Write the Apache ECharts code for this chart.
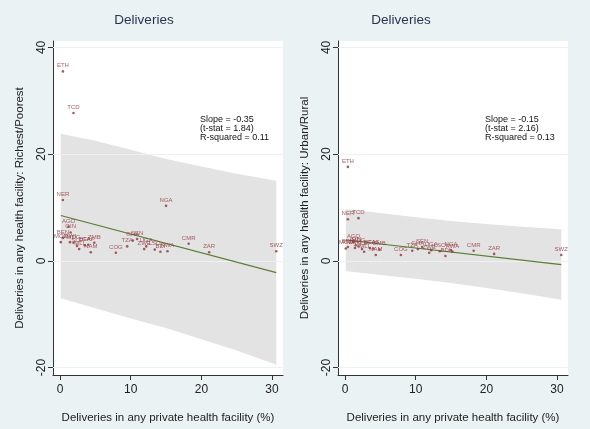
<!DOCTYPE html>
<html>
<head>
<meta charset="utf-8">
<script src="https://cdn.jsdelivr.net/npm/echarts@6.0.0/dist/echarts.min.js"></script>
<style>
html,body{margin:0;padding:0;background:#EAF2F3;}
#chart{width:590px;height:429px;}
</style>
</head>
<body>
<div id="chart"></div>
<script>
// ---- data ----
const countries = ['ETH','TCD','NER','AGO','GIN','BEN','MOZ','MWI','MDG','SLE','MLI','BFA','CAF','ZMB','NAM','COG','TZA','GHA','SEN','ZWE','UGA','LSO','BDI','RWA','NGA','CMR','ZAR','SWZ'];
const privateShare = [0.4,1.9,0.4,1.2,1.5,0.4,0.1,1.4,1.9,2.4,2.7,3.5,4.0,4.85,4.35,7.9,9.5,10.3,10.9,11.9,12.2,13.4,14.2,15.2,15.0,18.2,21.1,30.6];
const richestPoorest = [35.5,27.7,11.4,6.4,5.3,4.3,3.5,3.5,3.4,2.8,2.2,2.9,3.0,3.4,1.6,1.5,2.7,3.8,4.1,2.2,2.7,2.1,1.7,1.8,10.3,3.2,1.6,1.8];
const urbanRural = [17.6,8.0,7.8,3.5,2.9,2.6,2.3,2.4,2.7,2.2,1.7,2.4,2.3,2.1,1.1,1.1,1.9,2.2,2.6,1.5,2.0,1.8,0.9,1.7,2.0,1.9,1.3,1.1];

const fitX = [0.1, 30.6];
const fitLeft = [8.5, -2.2];
const fitRight = [3.9, -0.7];

const bandX = [0.1, 5, 10, 15, 20, 25, 30.6];
const bandUpperLeft = [23.8, 22.5, 20.8, 19.1, 17.7, 16.3, 15.0];
const bandLowerLeft = [-7.0, -8.9, -10.8, -12.6, -14.7, -16.8, -19.5];
const bandUpperRight = [9.7, 8.95, 8.15, 7.45, 6.9, 6.4, 5.9];
const bandLowerRight = [-1.9, -2.65, -3.35, -4.15, -5.1, -6.1, -7.3];

const xTicks = [0, 10, 20, 30];
const yTicks = [-20, 0, 20, 40];

const panelTitles = ['Deliveries', 'Deliveries'];
const yTitles = ['Deliveries in any health facility: Richest/Poorest', 'Deliveries in any health facility: Urban/Rural'];
const xTitle = 'Deliveries in any private health facility (%)';
const statsText = ['Slope = -0.35\n(t-stat = 1.84)\nR-squared = 0.11', 'Slope = -0.15\n(t-stat = 2.16)\nR-squared = 0.13'];

// ---- styling ----
const FONT = 'Liberation Sans, Arial, Helvetica, sans-serif';
const MAROON = '#90353B';
const GREEN = '#5A7D35';
const BAND = '#E3E3E3';
const AXIS = '#333333';
const GRIDLINE = '#EAF2F3';

const grids = [
  {left: 53, top: 41, width: 230, height: 335, show: true, backgroundColor: '#ffffff', borderWidth: 0},
  {left: 338, top: 41, width: 230, height: 335, show: true, backgroundColor: '#ffffff', borderWidth: 0}
];

function xAxis(i) {
  return {
    gridIndex: i, type: 'value', min: -1, max: 31.55,
    name: xTitle, nameLocation: 'middle', nameGap: 37,
    nameTextStyle: {fontSize: 11.5, color: '#222', fontFamily: FONT},
    axisLine: {show: true, onZero: false, lineStyle: {color: AXIS, width: 1}},
    axisTick: {show: true, length: 5, customValues: xTicks, lineStyle: {color: AXIS}},
    axisLabel: {customValues: xTicks, fontSize: 12, color: '#222', margin: 9, fontFamily: FONT},
    splitLine: {show: false}
  };
}
function yAxis(i) {
  return {
    gridIndex: i, type: 'value', min: -21.4, max: 41.2, splitNumber: 3,
    name: yTitles[i], nameLocation: 'middle', nameGap: 27,
    nameTextStyle: {fontSize: 11.5, color: '#222', fontFamily: FONT},
    axisLine: {show: true, onZero: false, lineStyle: {color: AXIS, width: 1}},
    axisTick: {show: true, length: 5, customValues: yTicks, lineStyle: {color: AXIS}},
    axisLabel: {customValues: yTicks, rotate: 90, fontSize: 12, color: '#222', margin: 5, fontFamily: FONT},
    splitLine: {show: false}
  };
}

function bandSeries(i, up, lo) {
  return {
    type: 'custom', xAxisIndex: i, yAxisIndex: i, silent: true, z: 1,
    data: [[bandX[0], up[0]]],
    renderItem: function (params, api) {
      const pts = [];
      for (let k = 0; k < bandX.length; k++) pts.push(api.coord([bandX[k], up[k]]));
      for (let k = bandX.length - 1; k >= 0; k--) pts.push(api.coord([bandX[k], lo[k]]));
      return {type: 'polygon', shape: {points: pts}, style: {fill: BAND}};
    },
    markLine: {
      silent: true, symbol: 'none', animation: false, z: 2,
      label: {show: false},
      lineStyle: {color: GRIDLINE, width: 1, type: 'solid'},
      data: yTicks.map(v => ({yAxis: v}))
    }
  };
}
function fitSeries(i, ys) {
  return {
    type: 'line', xAxisIndex: i, yAxisIndex: i, silent: true, z: 3,
    data: fitX.map((x, k) => [x, ys[k]]), showSymbol: false, symbol: 'none',
    lineStyle: {color: GREEN, width: 1.2}
  };
}
function scatterSeries(i, ys) {
  return {
    type: 'scatter', xAxisIndex: i, yAxisIndex: i, silent: true, z: 4,
    symbol: 'circle', symbolSize: 2.6,
    itemStyle: {color: MAROON},
    data: privateShare.map((x, k) => [x, ys[k]]),
    label: {
      show: true, position: 'top', distance: 1.5,
      formatter: p => countries[p.dataIndex],
      fontSize: 6, color: MAROON, fontFamily: FONT
    },
    labelLayout: {hideOverlap: false}
  };
}

const chart = echarts.init(document.getElementById('chart'), null, {renderer: 'canvas'});
chart.setOption({
  backgroundColor: '#EAF2F3',
  animation: false,
  grid: grids,
  xAxis: [xAxis(0), xAxis(1)],
  yAxis: [yAxis(0), yAxis(1)],
  series: [
    bandSeries(0, bandUpperLeft, bandLowerLeft),
    fitSeries(0, fitLeft),
    scatterSeries(0, richestPoorest),
    bandSeries(1, bandUpperRight, bandLowerRight),
    fitSeries(1, fitRight),
    scatterSeries(1, urbanRural)
  ],
  graphic: [
    {type: 'text', x: 144, y: 20, style: {text: panelTitles[0], align: 'center', verticalAlign: 'middle', textAlign: 'center', textVerticalAlign: 'middle', fontSize: 13.5, fill: '#283550', fontFamily: FONT}},
    {type: 'text', x: 401, y: 20, style: {text: panelTitles[1], align: 'center', verticalAlign: 'middle', textAlign: 'center', textVerticalAlign: 'middle', fontSize: 13.5, fill: '#283550', fontFamily: FONT}},
    {type: 'text', x: 200, y: 115, z: 10, style: {text: statsText[0], align: 'left', verticalAlign: 'top', textAlign: 'left', textVerticalAlign: 'top', fontSize: 9, lineHeight: 9, fill: '#111', fontFamily: FONT}},
    {type: 'text', x: 485, y: 115, z: 10, style: {text: statsText[1], align: 'left', verticalAlign: 'top', textAlign: 'left', textVerticalAlign: 'top', fontSize: 9, lineHeight: 9, fill: '#111', fontFamily: FONT}}
  ]
});
</script>
</body>
</html>
